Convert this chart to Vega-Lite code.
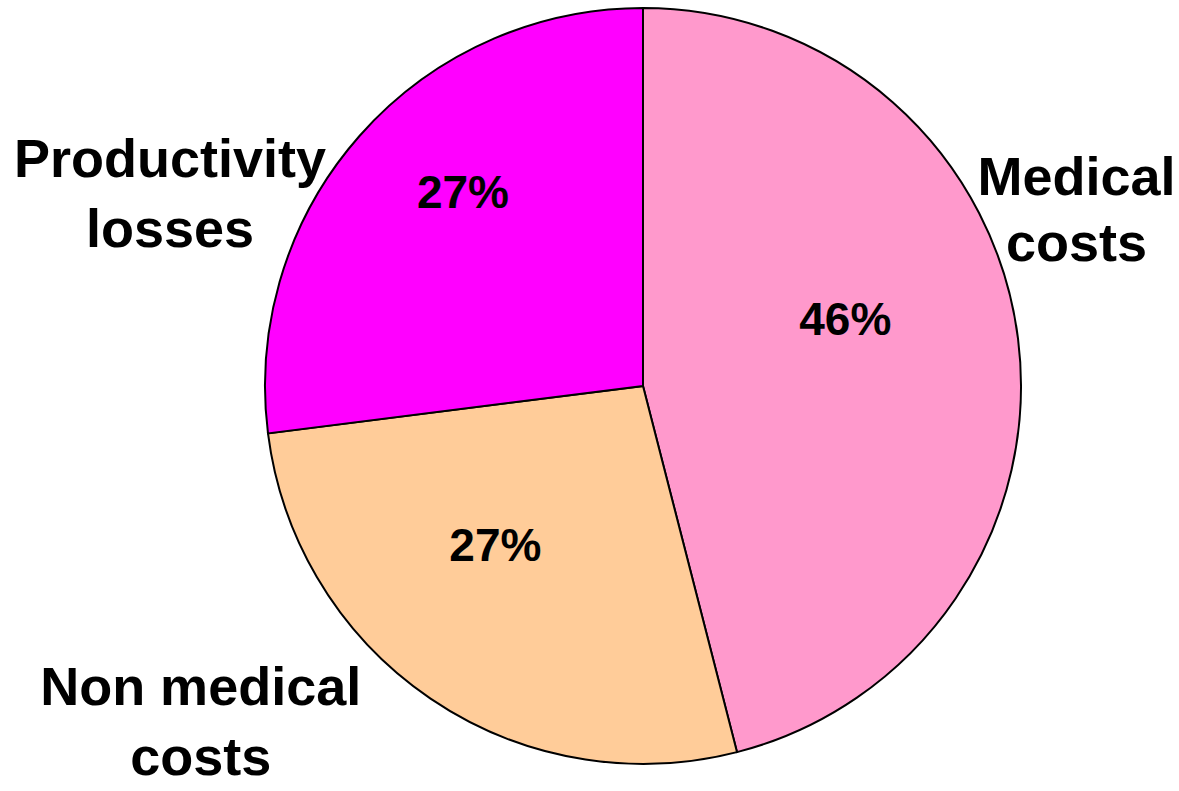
{
  "$schema": "https://vega.github.io/schema/vega-lite/v6.json",
  "width": 1072,
  "height": 772,
  "autosize": {"type": "none"},
  "padding": {"left": 107, "top": 0, "right": 0, "bottom": 19},
  "background": "white",
  "data": {"values": [
    {"category": "Medical costs", "label": "Medical\ncosts", "share": 0.46},
    {"category": "Non medical costs", "label": "Non medical\ncosts", "share": 0.27},
    {"category": "Productivity losses", "label": "Productivity\nlosses", "share": 0.27}
  ]},
  "encoding": {
    "theta": {"field": "share", "type": "quantitative", "stack": true},
    "order": {"field": "category", "type": "nominal", "sort": "ascending"}
  },
  "layer": [
    {
      "mark": {"type": "arc", "outerRadius": 378, "stroke": "black", "strokeWidth": 2},
      "encoding": {
        "color": {"field": "category", "type": "nominal", "legend": null,
          "scale": {"domain": ["Medical costs", "Non medical costs", "Productivity losses"], "range": ["#FF99CC", "#FFCC99", "#FF00FF"]}}
      }
    },
    {
      "mark": {"type": "text", "radius": 220, "font": "Liberation Sans", "fontWeight": "bold", "fontSize": 46, "align": "center", "baseline": "alphabetic", "dx": -16, "dy": -23, "color": "black"},
      "encoding": {"text": {"condition": {"test": "datum.category === 'Medical costs'", "field": "share", "type": "quantitative", "format": ".0%"}, "value": ""}}
    },
    {
      "mark": {"type": "text", "radius": 220, "font": "Liberation Sans", "fontWeight": "bold", "fontSize": 46, "align": "center", "baseline": "alphabetic", "dx": -24, "dy": -7, "color": "black"},
      "encoding": {"text": {"condition": {"test": "datum.category === 'Non medical costs'", "field": "share", "type": "quantitative", "format": ".0%"}, "value": ""}}
    },
    {
      "mark": {"type": "text", "radius": 220, "font": "Liberation Sans", "fontWeight": "bold", "fontSize": 46, "align": "center", "baseline": "alphabetic", "dx": -15, "dy": -33, "color": "black"},
      "encoding": {"text": {"condition": {"test": "datum.category === 'Productivity losses'", "field": "share", "type": "quantitative", "format": ".0%"}, "value": ""}}
    },
    {
      "mark": {"type": "text", "radius": 440, "font": "Liberation Sans", "fontWeight": "bold", "fontSize": 54, "lineHeight": 66, "lineBreak": "\n", "align": "center", "baseline": "alphabetic", "dx": -3, "dy": -136, "color": "black"},
      "encoding": {"text": {"condition": {"test": "datum.category === 'Medical costs'", "field": "label", "type": "nominal"}, "value": ""}}
    },
    {
      "mark": {"type": "text", "radius": 440, "font": "Liberation Sans", "fontWeight": "bold", "fontSize": 54, "lineHeight": 70, "lineBreak": "\n", "align": "center", "baseline": "alphabetic", "dx": -195, "dy": -45, "color": "black"},
      "encoding": {"text": {"condition": {"test": "datum.category === 'Non medical costs'", "field": "label", "type": "nominal"}, "value": ""}}
    },
    {
      "mark": {"type": "text", "radius": 440, "font": "Liberation Sans", "fontWeight": "bold", "fontSize": 54, "lineHeight": 70, "lineBreak": "\n", "align": "center", "baseline": "alphabetic", "dx": -143, "dy": 82, "color": "black"},
      "encoding": {"text": {"condition": {"test": "datum.category === 'Productivity losses'", "field": "label", "type": "nominal"}, "value": ""}}
    }
  ],
  "config": {"view": {"stroke": null}}
}
